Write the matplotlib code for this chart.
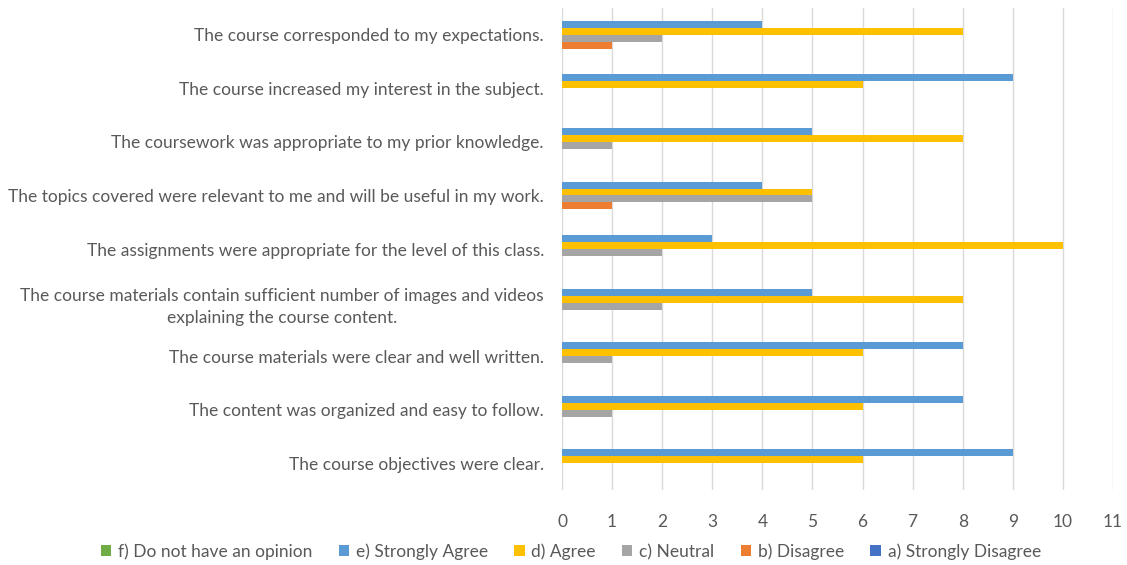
import matplotlib
matplotlib.use("Agg")
import matplotlib.pyplot as plt
import numpy as np

categories = [
    "The course objectives were clear.",
    "The content was organized and easy to follow.",
    "The course materials were clear and well written.",
    "The course materials contain sufficient number of images and videos\nexplaining the course content.",
    "The assignments were appropriate for the level of this class.",
    "The topics covered were relevant to me and will be useful in my work.",
    "The coursework was appropriate to my prior knowledge.",
    "The course increased my interest in the subject.",
    "The course corresponded to my expectations.",
]
series_names = ["f) Do not have an opinion", "e) Strongly Agree", "d) Agree",
                "c) Neutral", "b) Disagree", "a) Strongly Disagree"]
f_vals = [0, 0, 0, 0, 0, 0, 0, 0, 0]
e_vals = [9, 8, 8, 5, 3, 4, 5, 9, 4]
d_vals = [6, 6, 6, 8, 10, 5, 8, 6, 8]
c_vals = [0, 1, 1, 2, 2, 5, 1, 0, 2]
b_vals = [0, 0, 0, 0, 0, 1, 0, 0, 1]
a_vals = [0, 0, 0, 0, 0, 0, 0, 0, 0]
colors = ["#70AD47", "#5B9BD5", "#FFC000", "#A5A5A5", "#ED7D31", "#4472C4"]
xticks = list(range(0, 12))

plt.rcParams['font.family'] = ['Lato', 'DejaVu Sans']
text_color = "#595959"

fig = plt.figure(figsize=(11.27, 5.65), dpi=100)
ax = fig.add_axes([0.4987, 0.1327, 0.4889, 0.8531])

all_vals = [f_vals, e_vals, d_vals, c_vals, b_vals, a_vals]
n = len(all_vals)
bh = 0.13
y = np.arange(len(categories))
for i, (vals, name, col) in enumerate(zip(all_vals, series_names, colors)):
    offset = (n - 1) / 2 * bh - i * bh
    ax.barh(y + offset, vals, height=bh, color=col, label=name, zorder=3)

ax.set_ylim(-0.5, len(categories) - 0.5)
ax.set_xlim(0, 11)
ax.set_xticks(xticks)
ax.set_yticks(y)
ax.set_yticklabels(categories, ha='right', multialignment='center', linespacing=1.45)
ax.tick_params(axis='both', length=0, labelsize=12.5, colors=text_color)
ax.tick_params(axis='y', pad=13)
ax.tick_params(axis='x', pad=17)
ax.grid(axis='x', color='#D9D9D9', linewidth=1, zorder=0)
for s in ax.spines.values():
    s.set_visible(False)

leg = fig.legend(loc='center', bbox_to_anchor=(0.5065, 0.0235), ncol=6, frameon=False,
                 fontsize=12.5, handlelength=0.6, handleheight=0.6, handletextpad=0.4,
                 columnspacing=1.5, labelcolor=text_color)

fig.savefig("out.png", dpi=100)
